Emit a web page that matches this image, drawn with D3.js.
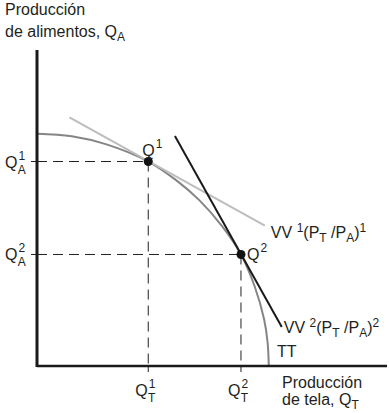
<!DOCTYPE html>
<html>
<head>
<meta charset="utf-8">
<script src="https://cdn.jsdelivr.net/npm/d3@7"></script>
<style>
  html, body { margin: 0; padding: 0; background: #fff; }
  svg text { font-family: "Liberation Sans", Arial, sans-serif; fill: #231f20; }
</style>
</head>
<body>
<svg id="chart" width="389" height="413"></svg>
<script>
// Production possibility frontier TT (cloth vs food)
const ppfCloth = [0, 15, 30, 48, 60, 70, 80, 88, 94, 98, 99.5, 100];
const ppfFood  = [100, 98.9, 95.4, 88, 80, 71.4, 60, 48, 34, 20, 10, 0];

// Production points Q1 and Q2
const pointNames = ["1", "2"];
const pointCloth = [48, 88];
const pointFood  = [88, 48];

// Relative price (isovalue) lines: start and end points
const vv1Cloth = [14, 98.3];
const vv1Food  = [107, 60.4];
const vv2Cloth = [59.5, 105.6];
const vv2Food  = [99, 16.8];

const svg = d3.select("#chart");
const x = d3.scaleLinear().domain([0, 151]).range([37, 387]);
const y = d3.scaleLinear().domain([0, 136]).range([366, 50]);

const line = d3.line().x(d => x(d[0])).y(d => y(d[1]));

// dashed guides from each point to both axes
pointCloth.forEach((c, i) => {
  const f = pointFood[i];
  svg.append("line")
    .attr("x1", x(0)).attr("y1", y(f)).attr("x2", x(c)).attr("y2", y(f))
    .attr("stroke", "#231f20").attr("stroke-width", 1).attr("stroke-dasharray", "10,6");
  svg.append("line")
    .attr("x1", x(c)).attr("y1", y(f)).attr("x2", x(c)).attr("y2", y(0))
    .attr("stroke", "#231f20").attr("stroke-width", 1).attr("stroke-dasharray", "10,6");
  // small ticks
  svg.append("line")
    .attr("x1", x(0) - 6).attr("x2", x(0)).attr("y1", y(f)).attr("y2", y(f))
    .attr("stroke", "#231f20").attr("stroke-width", 1);
  svg.append("line")
    .attr("x1", x(c)).attr("x2", x(c)).attr("y1", y(0)).attr("y2", y(0) + 6)
    .attr("stroke", "#231f20").attr("stroke-width", 1);
});

// frontier
const ppf = ppfCloth.map((c, i) => [c, ppfFood[i]]);
svg.append("path")
  .attr("d", line.curve(d3.curveCatmullRom)(ppf))
  .attr("fill", "none").attr("stroke", "#858585").attr("stroke-width", 2);

// price lines
svg.append("path")
  .attr("d", d3.line().x(d => x(d[0])).y(d => y(d[1]))(vv1Cloth.map((c, i) => [c, vv1Food[i]])))
  .attr("fill", "none").attr("stroke", "#bdbdbd").attr("stroke-width", 2);
svg.append("path")
  .attr("d", d3.line().x(d => x(d[0])).y(d => y(d[1]))(vv2Cloth.map((c, i) => [c, vv2Food[i]])))
  .attr("fill", "none").attr("stroke", "#1a1a1a").attr("stroke-width", 2);

// axes
svg.append("line").attr("x1", x(0)).attr("x2", x(0)).attr("y1", y(136)).attr("y2", y(0) + 1)
  .attr("stroke", "#1a1a1a").attr("stroke-width", 3);
svg.append("line").attr("x1", x(0)).attr("x2", x(151)).attr("y1", y(0)).attr("y2", y(0))
  .attr("stroke", "#1a1a1a").attr("stroke-width", 2.5);

// points
pointCloth.forEach((c, i) => {
  svg.append("circle").attr("cx", x(c)).attr("cy", y(pointFood[i])).attr("r", 4.5).attr("fill", "#111");
});

const FS = 16;
const SS = 12;
// helper: Q with superscript and/or subscript
function qLabel(px, py, sup, sub) {
  const t = svg.append("text").attr("x", px).attr("y", py).attr("font-size", FS);
  t.append("tspan").text("Q");
  if (sup && sub) {
    t.append("tspan").attr("font-size", SS).attr("dx", 1).attr("dy", -8).text(sup);
    t.append("tspan").attr("font-size", SS).attr("dx", -7.3).attr("dy", 14).text(sub);
  } else if (sup) {
    t.append("tspan").attr("font-size", SS).attr("dx", 1).attr("dy", -8).text(sup);
  } else if (sub) {
    t.append("tspan").attr("font-size", SS).attr("dy", 4).text(sub);
  }
  return t;
}

// axis titles
svg.append("text").attr("x", 5).attr("y", 15).attr("font-size", FS).text("Producción");
const yt = svg.append("text").attr("x", 5).attr("y", 37).attr("font-size", FS);
yt.append("tspan").text("de alimentos, Q");
yt.append("tspan").attr("font-size", SS).attr("dy", 4).text("A");

svg.append("text").attr("x", 282).attr("y", 388).attr("font-size", FS).text("Producción");
const xt = svg.append("text").attr("x", 282).attr("y", 405).attr("font-size", FS);
xt.append("tspan").text("de tela, Q");
xt.append("tspan").attr("font-size", SS).attr("dy", 4).text("T");

// axis tick labels
pointFood.forEach((f, i) => qLabel(5, y(f) + 6, pointNames[i], "A"));
pointCloth.forEach((c, i) => qLabel(x(c) - 13, y(0) + 30, pointNames[i], "T"));

// point labels
qLabel(x(pointCloth[0]) - 6, y(pointFood[0]) - 6, pointNames[0], null);
qLabel(x(pointCloth[1]) + 6, y(pointFood[1]) + 6, pointNames[1], null);

// line labels
function vvLabel(px, py, n) {
  const t = svg.append("text").attr("x", px).attr("y", py).attr("font-size", FS);
  t.append("tspan").text("VV ");
  t.append("tspan").attr("font-size", SS).attr("dy", -6).text(n);
  t.append("tspan").attr("dy", 6).text("(P");
  t.append("tspan").attr("font-size", SS).attr("dy", 4).text("T");
  t.append("tspan").attr("dy", -4).text(" /P");
  t.append("tspan").attr("font-size", SS).attr("dy", 4).text("A");
  t.append("tspan").attr("dy", -4).text(")");
  t.append("tspan").attr("font-size", SS).attr("dy", -6).text(n);
}
vvLabel(x(vv1Cloth[1]) + 6, y(vv1Food[1]) + 12, "1");
vvLabel(x(vv2Cloth[1]) + 2, y(vv2Food[1]) + 6, "2");

svg.append("text").attr("x", 277).attr("y", 357).attr("font-size", FS).text("TT");
</script>
</body>
</html>
